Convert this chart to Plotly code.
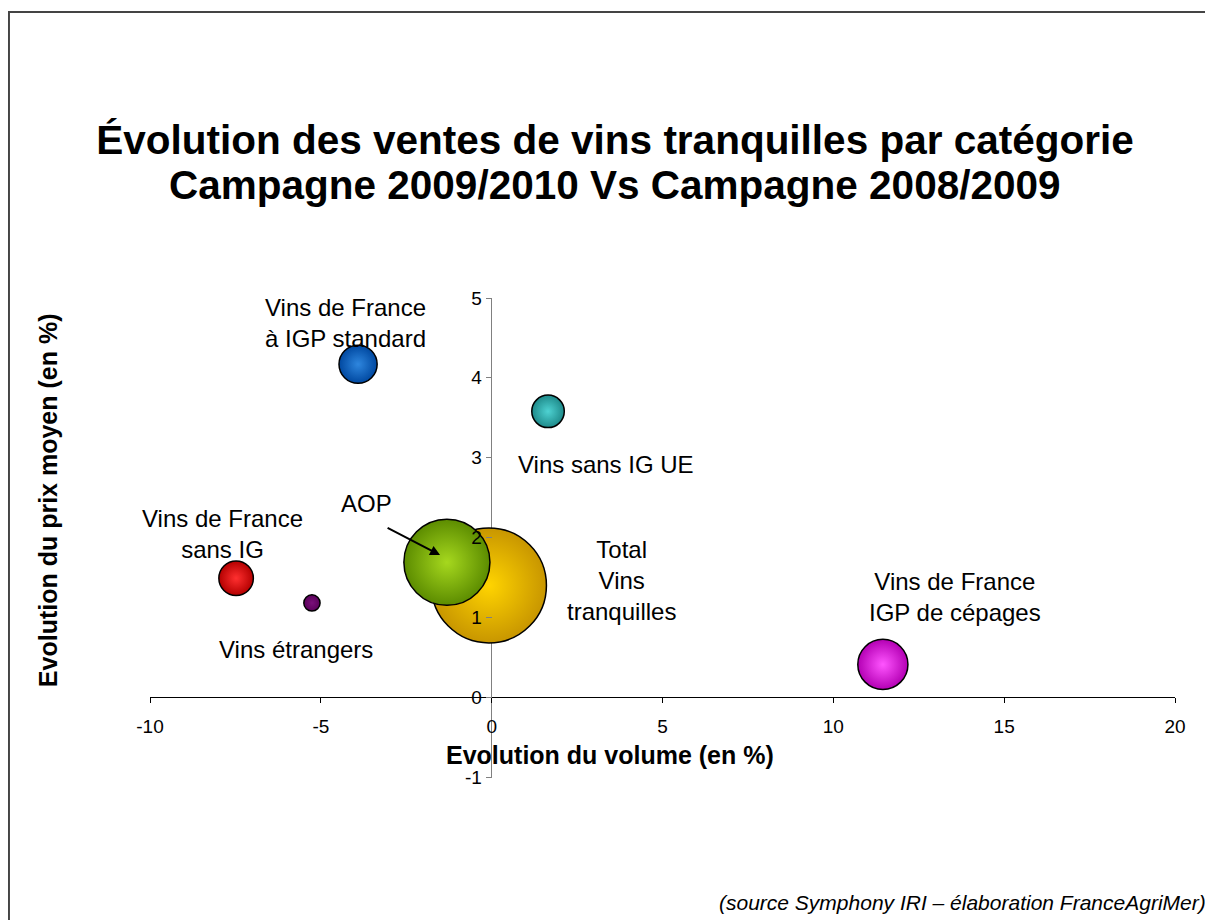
import plotly.graph_objects as go

# données
categories = ["Total Vins tranquilles", "AOP", "Vins de France IGP de cépages",
              "Vins de France à IGP standard", "Vins sans IG UE",
              "Vins de France sans IG", "Vins étrangers"]
evol_volume = [-0.08, -1.31, 11.45, -3.91, 1.65, -7.48, -5.26]
evol_prix = [1.40, 1.69, 0.41, 4.17, 3.58, 1.49, 1.18]
part_marche = [100, 56, 19, 11, 8, 9, 2]

x_ticks = [-10, -5, 0, 5, 10, 15, 20]
x_ticktext = ["-10", "-5", "0", "5", "10", "15", "20"]
y_ticks = [-1, 0, 1, 2, 3, 4, 5]
y_ticktext = ["-1", "0", "1", "2", "3", "4", "5"]

couleur_bord = ["#C89600", "#5C8C00", "#B400B4", "#0048A0", "#1E8A8A", "#B40000", "#5A005A"]
couleur_centre = ["#FFD400", "#A6D81E", "#FF55FF", "#2E86DE", "#4ED2D2", "#FF3030", "#7A107A"]

font = "Liberation Sans, Arial, sans-serif"

# diametre proportionnel a la racine de la part (aire ~ part)
tailles = [11.5 * p ** 0.5 for p in part_marche]

fig = go.Figure()
fig.add_trace(go.Scatter(
    x=evol_volume, y=evol_prix, mode="markers", text=categories,
    marker=dict(size=tailles, sizemode="diameter", color=couleur_bord,
                gradient=dict(type="radial", color=couleur_centre),
                line=dict(color="black", width=1.5), opacity=1),
    hoverinfo="text", showlegend=False,
))

# étiquettes
labels = [
    ("Vins de France<br>à IGP standard", -4.29, 4.69),
    ("Vins sans IG UE", 3.35, 2.92),
    ("Vins de France<br>sans IG", -7.89, 2.04),
    ("AOP", -3.65, 2.42),
    ("Total<br>Vins<br>tranquilles", 3.81, 1.46),
    ("Vins étrangers", -5.73, 0.60),
    ("Vins de France<br>IGP de cépages", 13.56, 1.26),
]
for txt, x, y in labels:
    fig.add_annotation(x=x, y=y, text=txt, showarrow=False,
                       xanchor="center", yanchor="middle",
                       font=dict(family=font, size=24, color="black"))

# flèche AOP
fig.add_annotation(x=-1.51, y=1.78, ax=-3.09, ay=2.13, axref="x", ayref="y",
                   text="", showarrow=True, arrowhead=2, arrowsize=1,
                   arrowwidth=2, arrowcolor="black")

# seconde ligne du titre
fig.add_annotation(x=0.4537, y=1.2359, xref="paper", yref="paper",
                   xanchor="center", yanchor="middle", showarrow=False,
                   text="<b>Campagne 2009/2010 Vs Campagne 2008/2009</b>",
                   font=dict(family=font, size=40.5, color="black"))

# titres des axes
fig.add_annotation(x=0.449, y=0.045, xref="paper", yref="paper",
                   xanchor="center", yanchor="middle",
                   text="<b>Evolution du volume (en %)</b>", showarrow=False,
                   font=dict(family=font, size=25, color="black"))
fig.add_annotation(x=-0.0995, y=0.578, xref="paper", yref="paper", textangle=-90,
                   xanchor="center", yanchor="middle",
                   text="<b>Evolution du prix moyen (en %)</b>", showarrow=False,
                   font=dict(family=font, size=25, color="black"))

# source
fig.add_annotation(x=1.032, y=-0.263, xref="paper", yref="paper",
                   xanchor="right", yanchor="middle",
                   text="<i>(source Symphony IRI – élaboration FranceAgriMer)</i>",
                   showarrow=False, font=dict(family=font, size=21, color="black"))

# cadre
fig.add_shape(type="rect", xref="paper", yref="paper",
              x0=-0.1376, x1=1.06, y0=-0.35, y1=1.597,
              line=dict(color="#444444", width=2))

# la page ajoute une marge de 8 px : on décale la figure
fig.update_layout(
    width=1205, height=912,
    margin=dict(l=142, r=38, t=290, b=143),
    paper_bgcolor="white", plot_bgcolor="white",
    font=dict(family=font, color="black"),
    title=dict(text="<b>Évolution des ventes de vins tranquilles par catégorie</b>",
               x=607 / 1205, y=1 - 132 / 912, xanchor="center", yanchor="middle",
               font=dict(family=font, size=40.5, color="black")),
    xaxis=dict(range=[-10, 20], tickvals=x_ticks, ticktext=x_ticktext,
               anchor="free", position=1 / 6,
               showgrid=False, showline=False, zeroline=True,
               zerolinecolor="#808080", zerolinewidth=1,
               ticks="outside", ticklen=5, tickcolor="black",
               ticklabelstandoff=7,
               tickfont=dict(family=font, size=19, color="black")),
    yaxis=dict(range=[-1, 5], tickvals=y_ticks, ticktext=y_ticktext,
               anchor="free", position=1 / 3,
               showgrid=False, showline=False, zeroline=True,
               zerolinecolor="black", zerolinewidth=1,
               ticks="outside", ticklen=6, tickcolor="#808080",
               tickfont=dict(family=font, size=19, color="black")),
)

fig.write_html("out.html")
